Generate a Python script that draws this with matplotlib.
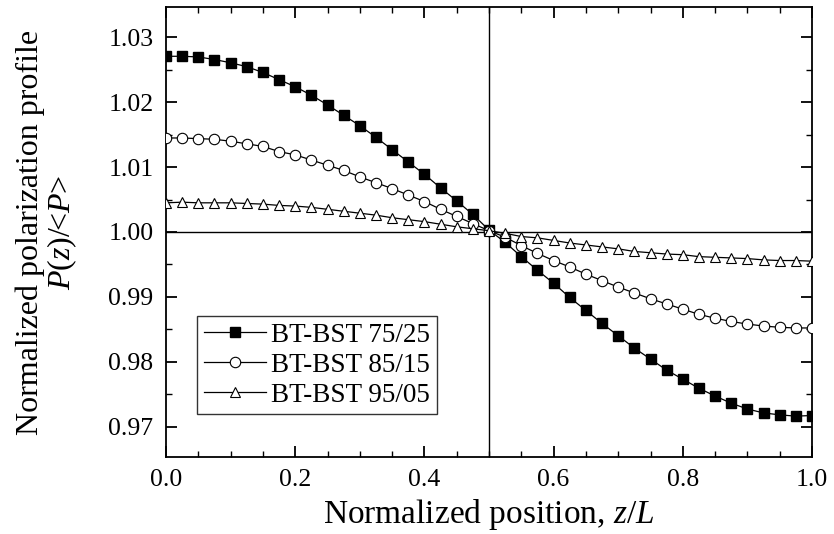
import matplotlib
matplotlib.use('Agg')
import matplotlib.pyplot as plt
import numpy as np
from matplotlib.ticker import MultipleLocator

plt.rcParams['font.family'] = ['Liberation Serif', 'DejaVu Serif']
plt.rcParams['mathtext.fontset'] = 'custom'
plt.rcParams['mathtext.rm'] = 'Liberation Serif'
plt.rcParams['mathtext.it'] = 'Liberation Serif:italic'

# normalized position z/L, step 0.025
z = np.linspace(0, 1, 41)

bt_75_25 = [1.0271, 1.0271, 1.0270, 1.0266, 1.0261, 1.0255, 1.0246, 1.0235, 1.0224, 1.0211,
            1.0196, 1.0180, 1.0164, 1.0146, 1.0127, 1.0108, 1.0089, 1.0068, 1.0048, 1.0027,
            1.0003, 0.9984, 0.9962, 0.9941, 0.9921, 0.9899, 0.9879, 0.9859, 0.9840, 0.9821,
            0.9804, 0.9787, 0.9773, 0.9759, 0.9747, 0.9736, 0.9727, 0.9721, 0.9718, 0.9716,
            0.9717]
bt_85_15 = [1.0145, 1.0145, 1.0144, 1.0143, 1.0140, 1.0136, 1.0132, 1.0124, 1.0119, 1.0111,
            1.0103, 1.0095, 1.0085, 1.0076, 1.0067, 1.0057, 1.0047, 1.0035, 1.0024, 1.0013,
            1.0002, 0.9992, 0.9979, 0.9967, 0.9956, 0.9946, 0.9935, 0.9925, 0.9915, 0.9906,
            0.9897, 0.9889, 0.9881, 0.9873, 0.9867, 0.9862, 0.9858, 0.9855, 0.9853, 0.9852,
            0.9852]
bt_95_05 = [1.0045, 1.0046, 1.0045, 1.0045, 1.0045, 1.0044, 1.0043, 1.0041, 1.0040, 1.0038,
            1.0035, 1.0032, 1.0029, 1.0026, 1.0022, 1.0019, 1.0016, 1.0012, 1.0008, 1.0005,
            1.0002, 0.9998, 0.9993, 0.9991, 0.9987, 0.9983, 0.9980, 0.9977, 0.9974, 0.9970,
            0.9968, 0.9966, 0.9965, 0.9962, 0.9961, 0.9960, 0.9959, 0.9957, 0.9956, 0.9956,
            0.9955]
labels = ['BT-BST 75/25', 'BT-BST 85/15', 'BT-BST 95/05']

fig = plt.figure(figsize=(8.34, 5.34), dpi=100)
ax = fig.add_axes([166/834, 1-457/534, (812-166)/834, (457-7)/534])

ax.axvline(0.5, color='black', lw=1.0, zorder=1)
ax.axhline(1.0, color='black', lw=1.0, zorder=1)

ax.plot(z, bt_75_25, '-', color='black', lw=0.9, marker='s', ms=6.5,
        mfc='black', mec='black', label=labels[0], zorder=3)
ax.plot(z, bt_85_15, '-', color='black', lw=0.9, marker='o', ms=7.5,
        mfc='white', mec='black', mew=0.8, label=labels[1], zorder=3)
ax.plot(z, bt_95_05, '-', color='black', lw=0.9, marker='^', ms=7.5,
        mfc='white', mec='black', mew=0.8, label=labels[2], zorder=3)

ax.set_xlim(0, 1)
ax.set_ylim(0.9653, 1.0347)
ax.xaxis.set_major_locator(MultipleLocator(0.2))
ax.xaxis.set_minor_locator(MultipleLocator(0.05))
ax.yaxis.set_major_locator(MultipleLocator(0.01))
ax.yaxis.set_minor_locator(MultipleLocator(0.005))
ax.xaxis.set_major_formatter(plt.FormatStrFormatter('%.1f'))
ax.yaxis.set_major_formatter(plt.FormatStrFormatter('%.2f'))
ax.tick_params(which='both', direction='in', top=True, right=True, labelsize=18.5, pad=9)
ax.tick_params(which='major', length=8, width=1.3)
ax.tick_params(which='minor', length=4, width=1.0)
for s in ax.spines.values():
    s.set_linewidth(1.3)

ax.set_xlabel(r'Normalized position, $z/L$', fontsize=24, labelpad=4)
fig.text(30/834, 1-232/534, 'Normalized polarization profile', rotation=90,
         ha='center', va='center', fontsize=23)
fig.text(62/834, 1-232/534, r'$P$($z$)/<$P$>', rotation=90, ha='center', va='center', fontsize=23)

leg = ax.legend(loc='upper left', bbox_to_anchor=(0.048, 0.313), borderaxespad=0,
                fontsize=19.5, frameon=True, fancybox=False, edgecolor='black',
                handlelength=2.3, handletextpad=0.2, labelspacing=0.18, borderpad=0.25)
leg.get_frame().set_linewidth(1.0)

fig.savefig('out.png', dpi=100)
